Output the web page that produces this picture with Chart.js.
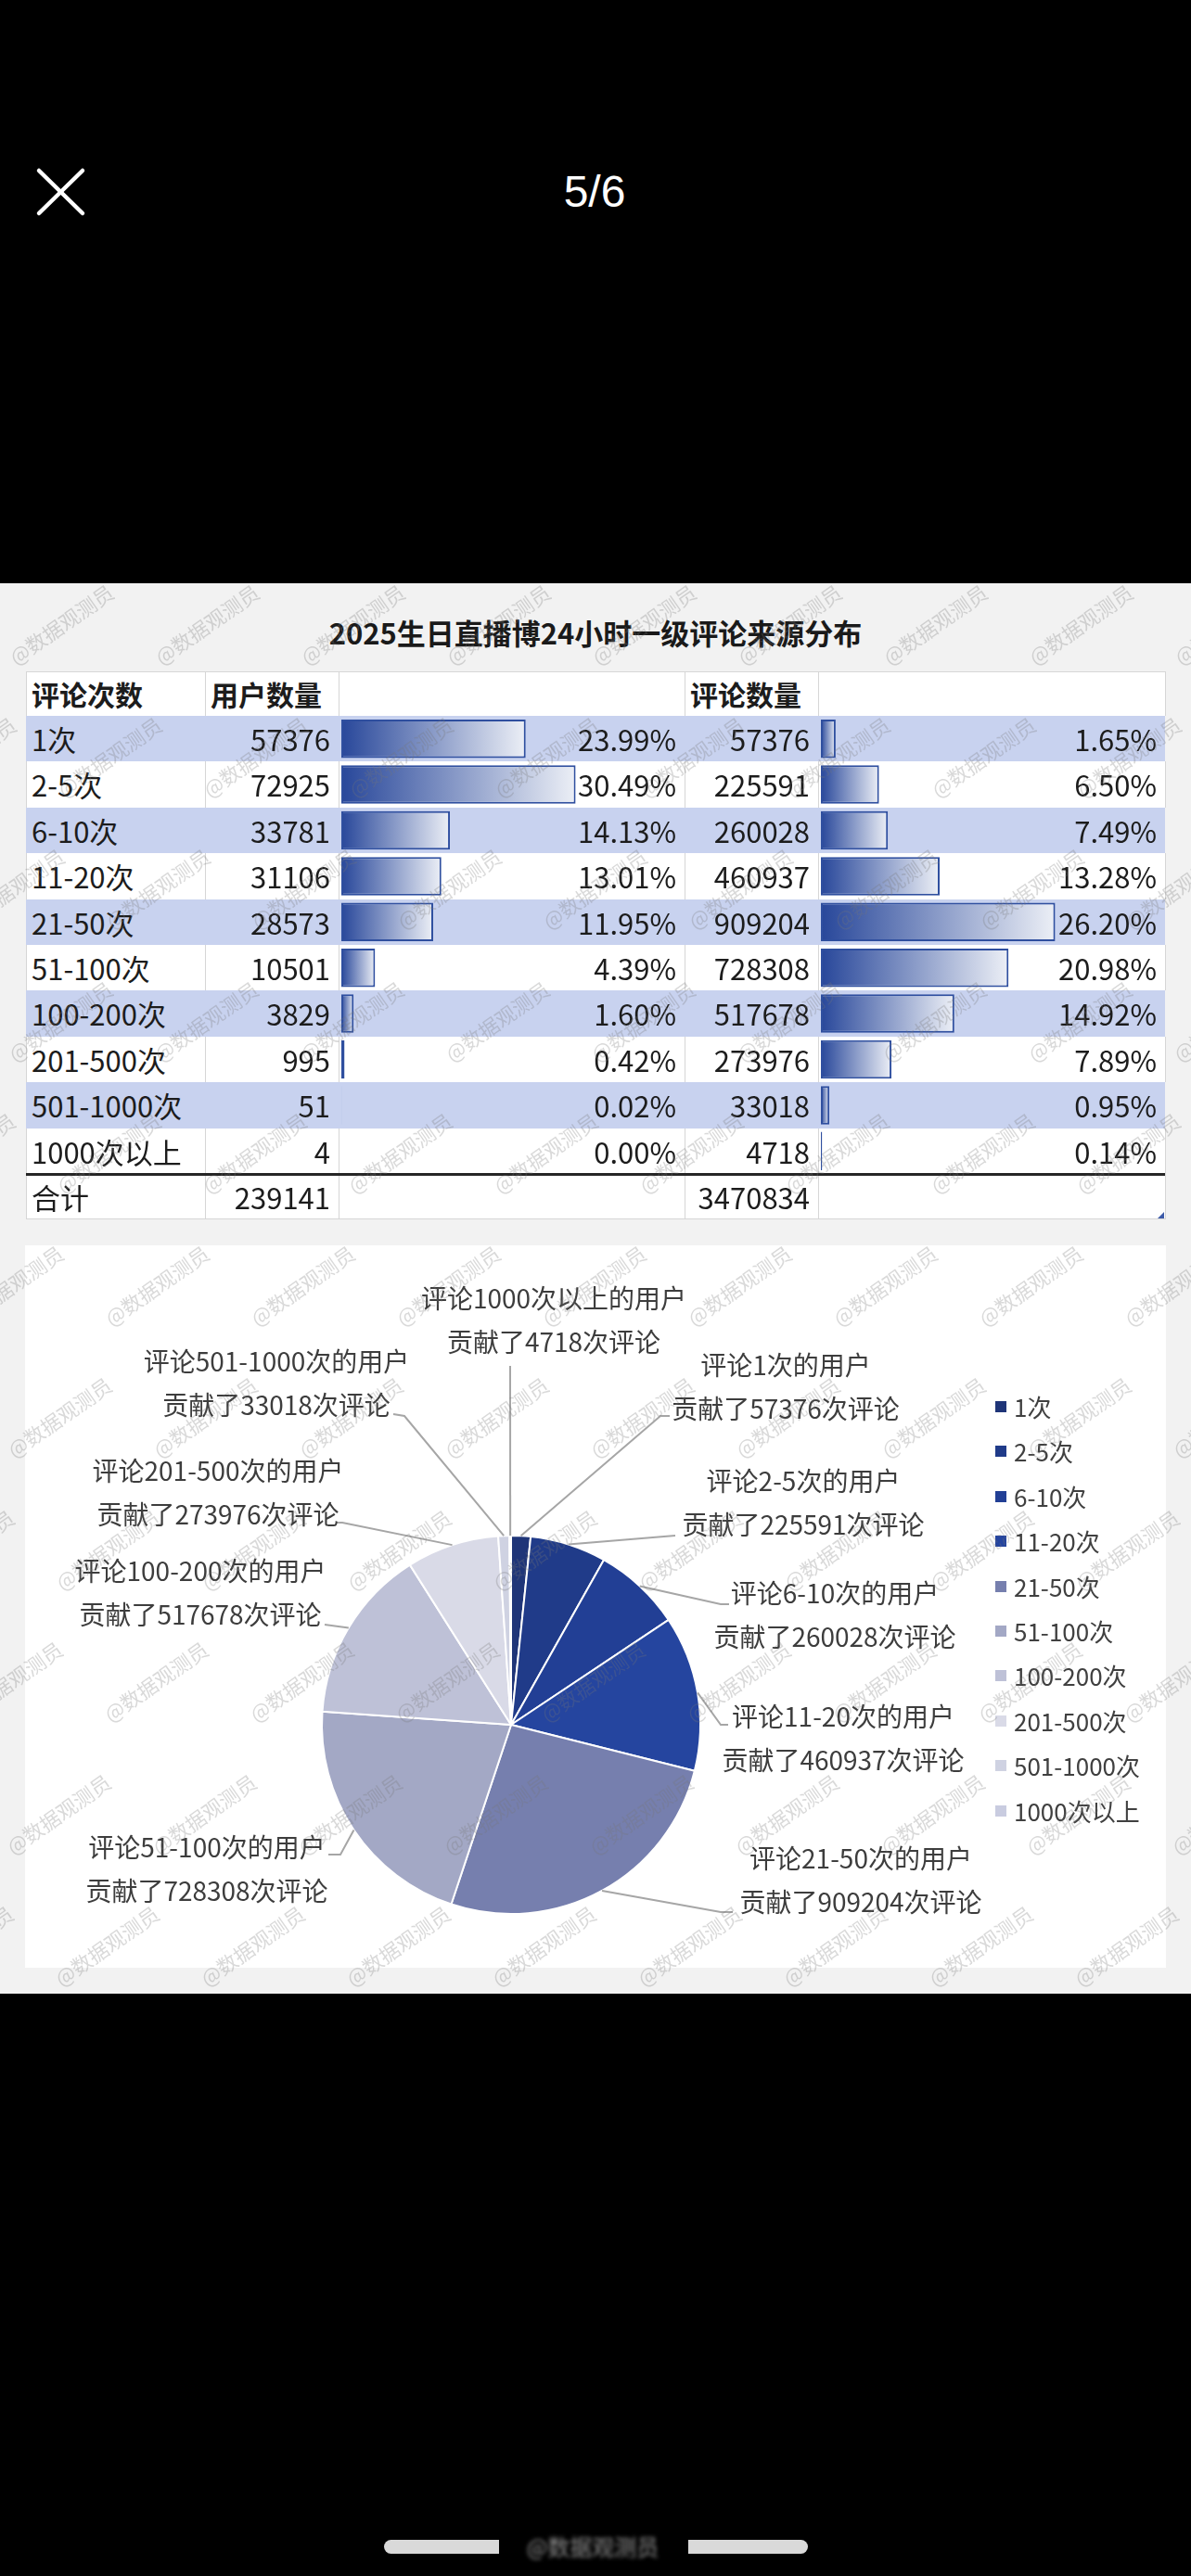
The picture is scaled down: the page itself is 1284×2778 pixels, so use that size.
<!DOCTYPE html>
<html lang="zh-CN">
<head>
<meta charset="utf-8">
<title>2025生日直播博24小时一级评论来源分布</title>
<script src="https://cdn.jsdelivr.net/npm/chart.js@4.4.1/dist/chart.umd.min.js"></script>
<style>
  body { margin: 0; width: 1284px; height: 2778px; background: #000; position: relative; overflow: hidden;
         font-family: "Noto Sans CJK SC", "Noto Sans", sans-serif; }
  .abs { position: absolute; }
  #panel { left: 0; top: 629px; width: 1284px; height: 1521px; background: #f2f2f2; }
  #title { left: 0; width: 1284px; top: 660px; height: 44px; line-height: 44px; text-align: center;
           font-weight: bold; font-size: 31px; color: #1a1a1a; }
  #table { left: 0; top: 0; width: 1284px; height: 1400px; }
  .row { position: absolute; left: 28px; width: 1228px; }
  .vline { position: absolute; width: 1px; background: #d6d6d6; }
  .txt { position: absolute; font-size: 31px; color: #1c1c1c; white-space: nowrap; }
  .hd { font-weight: bold; font-size: 30px; }
  #pieBox { left: 27px; top: 1343px; width: 1230px; height: 779px; background: #fff; }
  .lg { position: absolute; font-size: 26px; color: #404040; white-space: nowrap; }
  .mk { position: absolute; width: 12px; height: 12px; }
  #wm { left: 0; top: 629px; width: 1284px; height: 1521px; overflow: hidden; pointer-events: none; z-index: 50; }
  .wm { position: absolute; font-size: 22px; line-height: 24px; white-space: nowrap; color: rgba(120,120,120,0.28);
        transform-origin: 0 50%; transform: rotate(-35deg); }
</style>
</head>
<body>

<svg class="abs" style="left:0;top:0" width="140" height="260">
  <line x1="42" y1="184" x2="89" y2="230" stroke="#fff" stroke-width="4.5" stroke-linecap="round"/>
  <line x1="89" y1="184" x2="42" y2="230" stroke="#fff" stroke-width="4.5" stroke-linecap="round"/>
</svg>
<div class="abs" style="left:541px;top:178px;width:200px;text-align:center;color:#fff;font:48px 'Liberation Sans',sans-serif;line-height:58px">5/6</div>

<div id="panel" class="abs"></div>
<div id="title" class="abs">2025生日直播博24小时一级评论来源分布</div>
<div id="table" class="abs"></div>
<canvas id="userBars" class="abs" width="372" height="494" style="left:366px;top:772px;z-index:5"></canvas>
<canvas id="commentBars" class="abs" width="372" height="494" style="left:883px;top:772px;z-index:5"></canvas>

<div id="pieBox" class="abs"></div>
<canvas id="pie" class="abs" width="1230" height="779" style="left:27px;top:1343px;z-index:5"></canvas>
<div id="legend" class="abs" style="left:0;top:0;z-index:6"></div>

<div id="wm" class="abs"></div>

<div class="abs" style="left:414px;top:2739px;width:124px;height:15px;background:#d9d9d9;border-radius:8px 0 0 8px"></div>
<div class="abs" style="left:742px;top:2739px;width:129px;height:15px;background:#d9d9d9;border-radius:0 8px 8px 0"></div>
<div class="abs" style="left:532px;top:2728px;width:214px;text-align:center;font-size:24px;color:rgba(255,255,255,0.55);filter:blur(2px)">@数据观测员</div>

<script>
'use strict';

// ---- data ----
let categories = ['1次', '2-5次', '6-10次', '11-20次', '21-50次', '51-100次', '100-200次', '201-500次', '501-1000次', '1000次以上'];
let userCounts = [57376, 72925, 33781, 31106, 28573, 10501, 3829, 995, 51, 4];
let userShare = [23.99, 30.49, 14.13, 13.01, 11.95, 4.39, 1.60, 0.42, 0.02, 0.00];
let commentCounts = [57376, 225591, 260028, 460937, 909204, 728308, 517678, 273976, 33018, 4718];
let commentShare = [1.65, 6.50, 7.49, 13.28, 26.20, 20.98, 14.92, 7.89, 0.95, 0.14];
let userTotal = 239141;
let commentTotal = 3470834;
let headers = ['评论次数', '用户数量', '', '评论数量', ''];

// ---- styles / layout ----
let sliceColors = ['#1f3578', '#203b89', '#223f95', '#25459f', '#767fae', '#a3a8c5', '#bec1d7', '#d9dae7', '#cfd2e2', '#c9cce0'];
let colX = [28, 221, 365, 738, 882, 1256];
let headTop = 724, headH = 48, rowH = 49.4, firstRow = 772;
let blueRow = '#c8d2ef';

// label centres (page coords) and leader line bends for the pie
let labelX = [847, 866, 900, 909, 928, 223, 216, 235, 298, 597];
let labelY = [1472, 1597, 1718, 1851, 2004, 1992, 1694, 1586, 1468, 1400];
let leaderPath = [
    [[712, 1527], [722, 1527]],
    [[728, 1656]],
    [[777, 1730], [786, 1730]],
    [[777, 1860], [785, 1860]],
    [[777, 2062], [790, 2062]],
    [[367, 2000], [354, 2000]],
    [[350, 1752]],
    [[369, 1642], [362, 1642]],
    [[436, 1527], [424, 1525]],
    [[550, 1473]]
];

let table = document.getElementById('table');

function addDiv(cls, css, text) {
    let d = document.createElement('div');
    d.className = cls;
    d.style.cssText = css;
    if (text !== undefined) d.textContent = text;
    table.appendChild(d);
    return d;
}

function textCell(text, col, top, h, align, extra) {
    let x0 = colX[col], x1 = colX[col + 1];
    let css = 'top:' + top + 'px;height:' + h + 'px;line-height:' + h + 'px;';
    if (align === 'left') css += 'left:' + (x0 + 6) + 'px;';
    else css += 'left:' + x0 + 'px;width:' + (x1 - x0 - 9) + 'px;text-align:right;';
    addDiv('txt' + (extra ? ' ' + extra : ''), css + 'z-index:8', text);
}

function whiteRow(top, h) {
    addDiv('row', 'top:' + top + 'px;height:' + h + 'px;background:#fff;');
    for (let c = 0; c < colX.length; c++) {
        addDiv('vline', 'left:' + colX[c] + 'px;top:' + top + 'px;height:' + h + 'px;');
    }
}

// header
whiteRow(headTop, headH);
addDiv('row', 'top:' + headTop + 'px;height:1px;background:#d6d6d6;');
headers.forEach(function (h, c) {
    if (h) textCell(h, c, headTop, headH, 'left', 'hd');
});

// body rows
for (let i = 0; i < categories.length; i++) {
    let top = firstRow + i * rowH;
    if (i % 2 === 0) {
        addDiv('row', 'top:' + top + 'px;height:' + rowH + 'px;background:' + blueRow + ';');
    } else {
        whiteRow(top, rowH);
    }
    textCell(categories[i], 0, top, rowH, 'left');
    textCell(String(userCounts[i]), 1, top, rowH, 'right');
    textCell(userShare[i].toFixed(2) + '%', 2, top, rowH, 'right');
    textCell(String(commentCounts[i]), 3, top, rowH, 'right');
    textCell(commentShare[i].toFixed(2) + '%', 4, top, rowH, 'right');
}

// total row
let totalTop = firstRow + categories.length * rowH;
whiteRow(totalTop, 49);
addDiv('row', 'top:' + (totalTop + 48) + 'px;height:1px;background:#d6d6d6;');
addDiv('row', 'top:' + (totalTop - 1.5) + 'px;height:3px;background:#262626;z-index:7');
textCell('合计', 0, totalTop, 49, 'left');
textCell(String(userTotal), 1, totalTop, 49, 'right');
textCell(String(commentTotal), 3, totalTop, 49, 'right');
addDiv('abs', 'left:1248px;top:' + (totalTop + 41) + 'px;width:7px;height:7px;background:#3c5aa8;clip-path:polygon(100% 0,100% 100%,0 100%);z-index:8');

// ---- data bars ----
function barFill(context) {
    let chart = context.chart;
    let x = chart.scales && chart.scales.x;
    if (!x || context.type !== 'data') return '#3a59a8';
    let x0 = x.getPixelForValue(0);
    let x1 = x.getPixelForValue(context.raw);
    if (!(x1 > x0 + 1)) return '#2f4f9f';
    let g = chart.ctx.createLinearGradient(x0, 0, x1, 0);
    g.addColorStop(0, '#28479a');
    g.addColorStop(1, '#eceff6');
    return g;
}

function dataBars(id, values) {
    new Chart(document.getElementById(id), {
        type: 'bar',
        data: {
            labels: categories,
            datasets: [{
                data: values,
                backgroundColor: barFill,
                borderColor: '#2f4f9f',
                borderWidth: 2,
                borderSkipped: false,
                barPercentage: 0.84,
                categoryPercentage: 1
            }]
        },
        options: {
            indexAxis: 'y',
            responsive: false,
            animation: false,
            layout: { padding: { left: 2, right: 0, top: 0, bottom: 0 } },
            scales: {
                x: { display: false, min: 0, max: Math.max(...values) * 1.465 },
                y: { display: false }
            },
            plugins: { legend: { display: false }, tooltip: { enabled: false } }
        }
    });
}

dataBars('userBars', userShare);
dataBars('commentBars', commentShare);

// ---- pie ----
let ox = 27, oy = 1343;

let pieLabels = {
    id: 'pieLabels',
    afterDatasetsDraw(chart) {
        let ctx = chart.ctx;
        let arcs = chart.getDatasetMeta(0).data;
        ctx.save();
        arcs.forEach(function (arc, i) {
            let p = arc.getProps(['x', 'y', 'startAngle', 'endAngle', 'outerRadius'], true);
            let mid = (p.startAngle + p.endAngle) / 2;
            ctx.beginPath();
            ctx.moveTo(p.x + Math.cos(mid) * p.outerRadius, p.y + Math.sin(mid) * p.outerRadius);
            leaderPath[i].forEach(function (pt) {
                ctx.lineTo(pt[0] - ox, pt[1] - oy);
            });
            ctx.strokeStyle = '#a6a6a6';
            ctx.lineWidth = 2;
            ctx.stroke();

            ctx.font = '28px "Noto Sans CJK SC"';
            ctx.fillStyle = '#3d3d3d';
            ctx.textAlign = 'center';
            ctx.textBaseline = 'middle';
            ctx.fillText('评论' + categories[i] + '的用户', labelX[i] - ox, labelY[i] - oy);
            ctx.fillText('贡献了' + commentCounts[i] + '次评论', labelX[i] - ox, labelY[i] - oy + 47);
        });
        ctx.restore();
    }
};

new Chart(document.getElementById('pie'), {
    type: 'pie',
    data: {
        labels: categories,
        datasets: [{
            data: commentCounts,
            backgroundColor: sliceColors,
            borderColor: '#ffffff',
            borderWidth: 2
        }]
    },
    options: {
        responsive: false,
        animation: false,
        layout: { padding: { left: 319, right: 501, top: 312, bottom: 57 } },
        plugins: { legend: { display: false }, tooltip: { enabled: false } }
    },
    plugins: [pieLabels]
});

// legend
let legend = document.getElementById('legend');
categories.forEach(function (name, i) {
    let y = 1517 + i * 48.4;
    let m = document.createElement('div');
    m.className = 'mk';
    m.style.cssText = 'left:1073px;top:' + (y - 6) + 'px;background:' + sliceColors[i];
    legend.appendChild(m);
    let t = document.createElement('div');
    t.className = 'lg';
    t.style.cssText = 'left:1093px;top:' + (y - 20) + 'px;height:40px;line-height:40px';
    t.textContent = name;
    legend.appendChild(t);
});

// watermark
let wm = document.getElementById('wm');
for (let r = 0; r <= 10; r++) {
    let y = 710 + 142.5 * r - 629;
    let x0 = ((12 + 52 * r) % 157) - 157;
    for (let x = x0; x < 1300; x += 157) {
        let d = document.createElement('div');
        d.className = 'wm';
        d.style.left = x + 'px';
        d.style.top = (y - 12) + 'px';
        d.textContent = '@数据观测员';
        wm.appendChild(d);
    }
}
</script>
</body>
</html>
